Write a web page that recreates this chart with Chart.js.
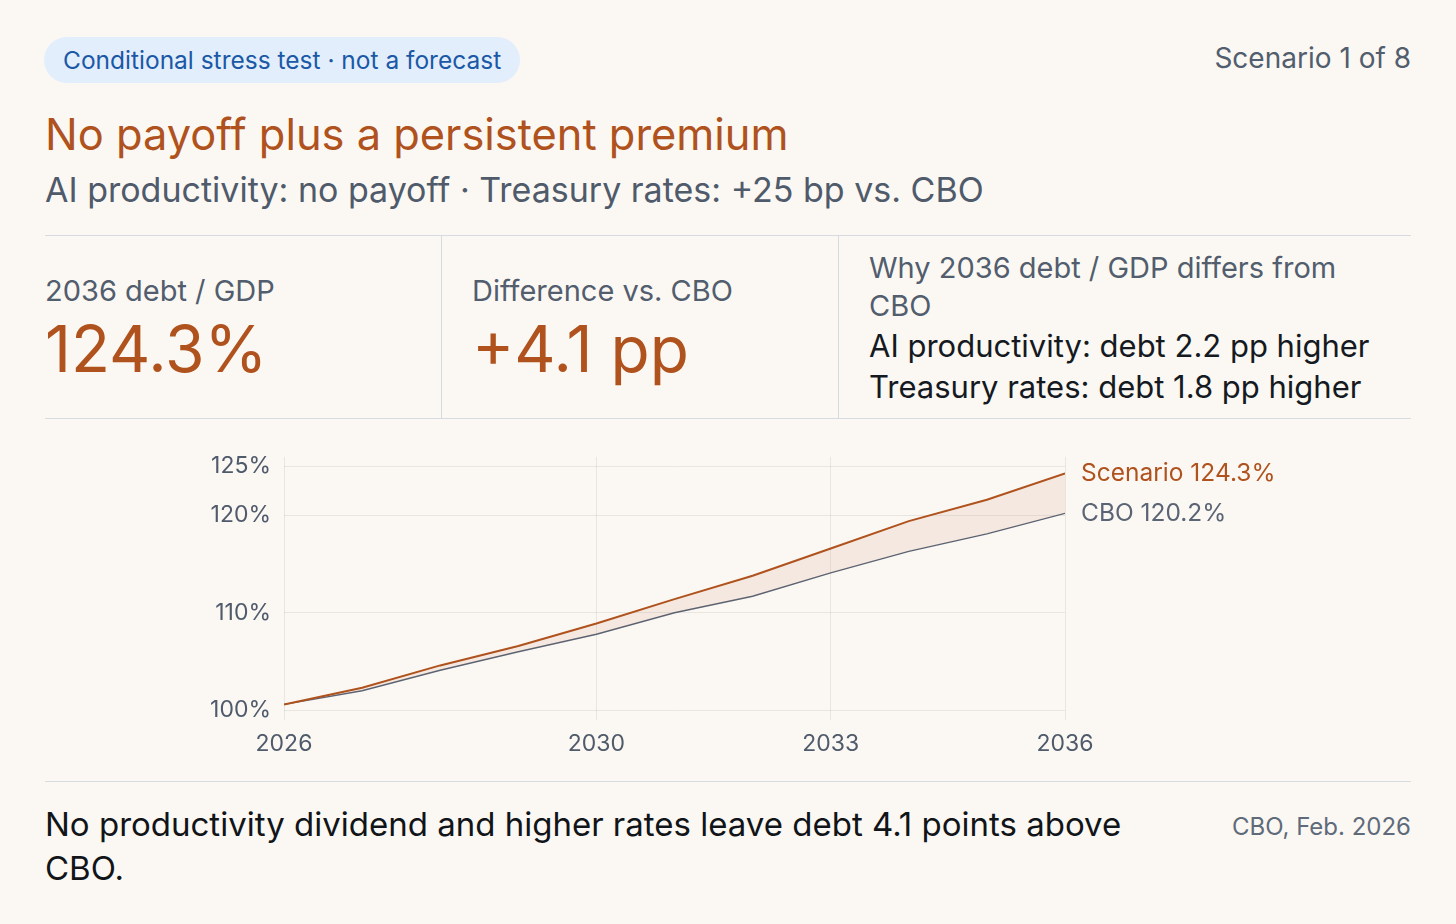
<!DOCTYPE html>
<html>
<head>
<meta charset="utf-8">
<script src="https://cdn.jsdelivr.net/npm/chart.js@4.4.1/dist/chart.umd.min.js"></script>
<style>
  html, body { margin: 0; padding: 0; }
  body {
    width: 1456px; height: 924px; overflow: hidden;
    background: #fbf8f3;
    font-family: Inter, "Noto Sans", sans-serif;
    position: relative;
  }
  .abs { position: absolute; }
  .pill {
    left: 44px; top: 37px; height: 46px; padding: 0 19px;
    border-radius: 23px; background: #e2eefb; color: #1b58a6;
    font-size: 24.5px; line-height: 46px; white-space: nowrap;
  }
  .count { right: 45px; top: 41px; font-size: 28px; color: #525d6e; }
  .title { left: 45px; top: 108px; font-size: 43.4px; color: #b0521d; white-space: nowrap; }
  .sub { left: 45px; top: 169px; font-size: 34px; color: #4f5a6b; white-space: nowrap; }
  .stats {
    left: 45px; top: 235px; width: 1366px; height: 182px;
    border-top: 1.5px solid #d6dbe2; border-bottom: 1.5px solid #d6dbe2;
    display: flex;
  }
  .stat { position: relative; box-sizing: border-box; }
  .stat + .stat { border-left: 1.5px solid #d6dbe2; }
  .s1 { width: 396px; }
  .s2 { width: 397px; padding-left: 30px; }
  .s3 { width: 573px; padding-left: 30px; padding-right: 20px; }
  .lab { font-size: 29px; color: #525d6e; line-height: 38px; }
  .val { font-size: 64px; color: #b0521d; line-height: 70px; }
  .why { font-size: 31px; color: #151a22; line-height: 41px; }
  .chartbox { left: 45px; top: 430px; width: 1366px; height: 340px; }
  .foot {
    left: 45px; top: 781px; width: 1366px;
    border-top: 1.5px solid #d6dbe2;
  }
  .note { position: absolute; left: 0; top: 20px; width: 1115px; font-size: 33px; line-height: 44px; color: #111418; }
  .src { position: absolute; right: 0; top: 30px; font-size: 24px; color: #5f6a7a; }
</style>
</head>
<body>
<div class="abs pill">Conditional stress test · not a forecast</div>
<div class="abs count">Scenario 1 of 8</div>
<div class="abs title">No payoff plus a persistent premium</div>
<div class="abs sub">AI productivity: no payoff · Treasury rates: +25 bp vs. CBO</div>

<div class="abs stats">
  <div class="stat s1">
    <div class="lab" style="position:absolute;top:36px;">2036 debt / GDP</div>
    <div class="val" style="position:absolute;top:78px;">124.3%</div>
  </div>
  <div class="stat s2">
    <div class="lab" style="position:absolute;top:36px;">Difference vs. CBO</div>
    <div class="val" style="position:absolute;top:78px;">+4.1 pp</div>
  </div>
  <div class="stat s3">
    <div class="lab" style="margin-top:13px;">Why 2036 debt / GDP differs from CBO</div>
    <div class="why">AI productivity: debt 2.2 pp higher</div>
    <div class="why">Treasury rates: debt 1.8 pp higher</div>
  </div>
</div>

<div class="abs chartbox"><canvas id="debtChart" width="1366" height="340"></canvas></div>

<div class="abs foot">
  <div class="note">No productivity dividend and higher rates leave debt 4.1 points above CBO.</div>
  <div class="src">CBO, Feb. 2026</div>
</div>

<script>
// Data: debt held by the public, % of GDP
var years = [2026, 2027, 2028, 2029, 2030, 2031, 2032, 2033, 2034, 2035, 2036];
var scenarioDebt = [100.6, 102.3, 104.6, 106.6, 108.9, 111.4, 113.8, 116.6, 119.4, 121.6, 124.3];
var cboDebt = [100.6, 102.0, 104.1, 106.0, 107.8, 110.0, 111.7, 114.1, 116.3, 118.1, 120.2];
var xTicks = [2026, 2030, 2033, 2036];
var yTicks = [100, 110, 120, 125];

var orange = "#b0521d";
var slate = "#5a6475";

function toPoints(values) {
    return years.map(function (y, i) { return { x: y, y: values[i] }; });
}

// Label at the end of each line
var endLabels = {
    id: "endLabels",
    afterDatasetsDraw: function (chart) {
        var ctx = chart.ctx;
        ctx.save();
        ctx.font = "24.5px Inter, 'Noto Sans', sans-serif";
        ctx.textBaseline = "middle";
        ctx.textAlign = "left";
        chart.data.datasets.forEach(function (ds, i) {
            var meta = chart.getDatasetMeta(i);
            var last = meta.data[meta.data.length - 1];
            ctx.fillStyle = ds.borderColor;
            ctx.fillText(ds.label + " " + ds.data[ds.data.length - 1].y.toFixed(1) + "%", last.x + 16, last.y);
        });
        ctx.restore();
    },
};

var ctx = document.getElementById("debtChart").getContext("2d");
var debtChart = new Chart(ctx, {
    type: "line",
    data: {
        datasets: [
            {
                label: "Scenario",
                data: toPoints(scenarioDebt),
                borderColor: orange,
                borderWidth: 2,
                pointRadius: 0,
                fill: "+1",
                backgroundColor: "rgba(176, 82, 29, 0.09)",
                tension: 0,
            },
            {
                label: "CBO",
                data: toPoints(cboDebt),
                borderColor: slate,
                borderWidth: 1.4,
                pointRadius: 0,
                fill: false,
                tension: 0,
            },
        ],
    },
    options: {
        responsive: false,
        animation: false,
        layout: { padding: { top: 4, right: 346, left: 0, bottom: 0 } },
        plugins: {
            legend: { display: false },
            tooltip: { enabled: false },
        },
        scales: {
            x: {
                type: "linear",
                min: 2026,
                max: 2036,
                afterBuildTicks: function (scale) {
                    scale.ticks = xTicks.map(function (v) { return { value: v }; });
                },
                afterFit: function (scale) { scale.height = 50; },
                ticks: {
                    padding: 10,
                    color: "#4f5a6b",
                    font: { family: "Inter", size: 23 },
                    maxRotation: 0,
                    callback: function (v) { return String(v); },
                },
                grid: { color: "rgba(0,0,0,0.07)", drawTicks: false },
                border: { display: false },
            },
            y: {
                min: 99,
                max: 126,
                afterBuildTicks: function (scale) {
                    scale.ticks = yTicks.map(function (v) { return { value: v }; });
                },
                afterFit: function (scale) { scale.width = 239; },
                ticks: {
                    padding: 13,
                    color: "#4f5a6b",
                    font: { family: "Inter", size: 23 },
                    callback: function (v) { return v + "%"; },
                },
                grid: { color: "rgba(0,0,0,0.07)", drawTicks: false },
                border: { display: false },
            },
        },
    },
    plugins: [endLabels],
});
</script>
</body>
</html>
